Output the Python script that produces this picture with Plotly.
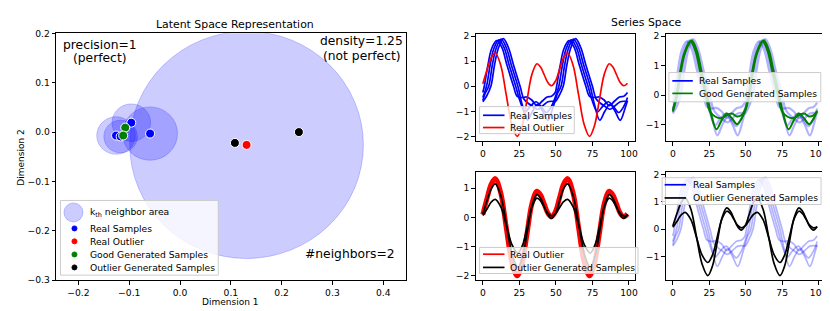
import plotly.graph_objects as go

# ---------------- Latent space data ----------------
real_x = [-0.126, -0.117, -0.096, -0.059]
real_y = [-0.007, -0.009, 0.019, -0.003]
real_r = [0.038, 0.033, 0.038, 0.054]
outlier_x = [0.131]
outlier_y = [-0.026]
outlier_r = [0.230]
good_x = [-0.108, -0.112]
good_y = [0.009, -0.007]
bad_x = [0.108, 0.234]
bad_y = [-0.022, 0.000]

# ---------------- Series space data ----------------
real1_t = [0, 1, 3.5, 6, 9.5, 13, 16.5, 21, 23.5, 27, 30, 33.5, 37, 40.5, 44, 47, 49.5, 50.5, 53, 55.5, 59, 62.5, 66, 70.5, 73, 76.5, 79.5, 83, 86.5, 90, 93.5, 96.5, 99]
real1_v = [-0.25, 0.0, 0.85, 1.5, 1.82, 1.55, 0.85, 0.0, -0.4, -0.45, -0.43, -0.55, -0.78, -0.6, -0.43, -0.4, -0.25, 0.0, 0.85, 1.5, 1.82, 1.55, 0.85, 0.0, -0.4, -0.45, -0.43, -0.55, -0.78, -0.6, -0.43, -0.4, -0.25]
real2_t = [0, 2.5, 5, 7.5, 11, 14.5, 18, 22.5, 25.5, 29, 32.5, 36.5, 40, 43.5, 47, 49.5, 52, 54.5, 57, 60.5, 64, 67.5, 72, 75, 78.5, 82, 86, 89.5, 93, 96.5, 99]
real2_v = [-0.45, 0.0, 0.85, 1.5, 1.85, 1.55, 0.85, 0.0, -0.6, -1.02, -0.8, -0.62, -0.82, -1.05, -0.8, -0.45, 0.0, 0.85, 1.5, 1.85, 1.55, 0.85, 0.0, -0.6, -1.02, -0.8, -0.62, -0.82, -1.05, -0.8, -0.45]
real3_t = [0, 1.5, 4, 6.5, 9, 12.5, 16, 19.5, 24, 27, 30.5, 34, 37.5, 41, 44.5, 48, 49.5, 51, 53.5, 56, 58.5, 62, 65.5, 69, 73.5, 76.5, 80, 83.5, 87, 90.5, 94, 97.5, 99]
real3_v = [-0.57, -0.3, 0.0, 0.85, 1.5, 1.88, 1.55, 0.85, 0.0, -0.75, -1.36, -1.0, -0.72, -1.0, -1.36, -0.85, -0.57, -0.3, 0.0, 0.85, 1.5, 1.88, 1.55, 0.85, 0.0, -0.75, -1.36, -1.0, -0.72, -1.0, -1.36, -0.85, -0.57]
real4_t = [0, 2.5, 5.5, 8, 10.5, 14, 17.5, 21, 25.5, 28, 31, 34, 37.5, 41, 44.5, 47.5, 49.5, 52, 55, 57.5, 60, 63.5, 67, 70.5, 75, 77.5, 80.5, 83.5, 87, 90.5, 94, 97, 99]
real4_v = [-0.62, -0.4, 0.0, 0.85, 1.5, 1.9, 1.55, 0.85, 0.0, -0.5, -0.68, -0.8, -0.92, -0.78, -0.62, -0.6, -0.62, -0.4, 0.0, 0.85, 1.5, 1.9, 1.55, 0.85, 0.0, -0.5, -0.68, -0.8, -0.92, -0.78, -0.62, -0.6, -0.62]

outlier_t = [0, 3, 5.75, 8.5, 12.25, 16, 19.75, 23.5, 26.9, 30.25, 33.6, 37, 39.5, 42, 44.5, 47, 49.75, 52.5, 55.25, 58, 61.75, 65.5, 69.25, 73, 76.4, 79.75, 83.1, 86.5, 89, 91.5, 94, 96.5, 99]
outlier_v = [0.1, 0.68, 1.14, 1.33, 0.84, -0.335, -1.51, -2.0, -1.575, -0.55, 0.475, 0.9, 0.77, 0.46, 0.15, 0.02, 0.21, 0.675, 1.14, 1.33, 0.84, -0.335, -1.51, -2.0, -1.575, -0.55, 0.475, 0.9, 0.77, 0.46, 0.15, 0.02, 0.12]

good1_t = [0, 3, 5.5, 8.5, 13, 16.5, 19.5, 23.5, 26.5, 30, 33.5, 37, 40.5, 44, 47, 49.5, 52.5, 55, 58, 62.5, 66, 69, 73, 76, 79.5, 83, 86.5, 90, 93.5, 96.5, 99]
good1_v = [-0.55, 0.0, 0.8, 1.45, 1.85, 1.5, 0.85, 0.0, -0.7, -1.15, -0.85, -0.62, -0.78, -0.98, -0.8, -0.55, 0.0, 0.8, 1.45, 1.85, 1.5, 0.85, 0.0, -0.7, -1.15, -0.85, -0.62, -0.78, -0.98, -0.8, -0.52]
good2_t = [0, 2.5, 5, 8, 12, 15.5, 18.5, 22.5, 25.5, 29, 33, 37, 40.5, 44, 47, 49.5, 52, 54.5, 57.5, 61.5, 65, 68, 72, 75, 78.5, 82.5, 86.5, 90, 93.5, 96.5, 99]
good2_v = [-0.5, 0.0, 0.8, 1.45, 1.82, 1.5, 0.85, 0.0, -0.55, -0.72, -0.78, -0.68, -0.62, -0.72, -0.68, -0.5, 0.0, 0.8, 1.45, 1.82, 1.5, 0.85, 0.0, -0.55, -0.72, -0.78, -0.68, -0.62, -0.72, -0.68, -0.55]

bad_t = [0, 3, 5.75, 8.5, 12.4, 16.25, 20.1, 24, 27.25, 30.5, 33.75, 37, 39.5, 42, 44.5, 47, 49.75, 52.5, 55.25, 58, 61.9, 65.75, 69.6, 73.5, 76.75, 80, 83.25, 86.5, 89, 91.5, 94, 96.5, 99]
bad1_v = [0.12, 0.6, 0.98, 1.15, 0.73, -0.275, -1.28, -1.7, -1.34, -0.46, 0.42, 0.78, 0.66, 0.375, 0.09, -0.03, 0.14, 0.56, 0.98, 1.15, 0.73, -0.275, -1.28, -1.7, -1.34, -0.46, 0.42, 0.78, 0.66, 0.375, 0.09, -0.03, 0.1]
bad2_v = [0.07, 0.3, 0.53, 0.62, 0.35, -0.3, -0.95, -1.22, -0.94, -0.28, 0.38, 0.66, 0.57, 0.355, 0.14, 0.05, 0.13, 0.335, 0.54, 0.62, 0.35, -0.3, -0.95, -1.22, -0.94, -0.28, 0.38, 0.66, 0.57, 0.355, 0.14, 0.05, 0.08]

real_t_list = [real1_t, real2_t, real3_t, real4_t]
real_v_list = [real1_v, real2_v, real3_v, real4_v]

# ---------------- Styling ----------------
FONT = "DejaVu Sans"
BLUE = "#0000ff"
RED = "#ff0000"
GREEN = "#008000"
BLACK = "#000000"
FAINT = "rgba(0,0,255,0.3)"
AREA = "rgba(0,0,255,0.2)"
LW = 1.7
W, H = 830, 311

fig = go.Figure()

# neighbour circles (k-th neighbour radius around every real sample)
for cx, cy, r in zip(real_x + outlier_x, real_y + outlier_y, real_r + outlier_r):
    fig.add_shape(type="circle", xref="x", yref="y", x0=cx - r, x1=cx + r, y0=cy - r, y1=cy + r,
                  fillcolor=AREA, line=dict(color=AREA, width=1), layer="below")

def pts(xs, ys, color, name):
    fig.add_trace(go.Scatter(x=xs, y=ys, mode="markers", name=name, xaxis="x", yaxis="y",
                             marker=dict(size=9, color=color, line=dict(color="white", width=1))))

pts(real_x, real_y, BLUE, "Real Samples")
pts(outlier_x, outlier_y, RED, "Real Outlier")
pts(good_x, good_y, GREEN, "Good Generated Samples")
pts(bad_x, bad_y, BLACK, "Outlier Generated Samples")

def line(t, v, color, width, ax, name):
    fig.add_trace(go.Scatter(x=t, y=v, mode="lines", name=name, xaxis="x" + ax, yaxis="y" + ax,
                             line=dict(color=color, width=width, shape="spline", smoothing=1.0)))

# TL: real samples + outlier
for t, v in zip(real_t_list, real_v_list):
    line(t, v, BLUE, LW, "2", "Real Samples")
line(outlier_t, outlier_v, RED, LW, "2", "Real Outlier")
# TR: real (faint) + good generated
for t, v in zip(real_t_list, real_v_list):
    line(t, v, FAINT, 2.2, "3", "Real Samples")
line(good1_t, good1_v, GREEN, 2.0, "3", "Good Generated Samples")
line(good2_t, good2_v, GREEN, 2.0, "3", "Good Generated Samples")
# BL: outlier (thick) + outlier generated
line(outlier_t, outlier_v, RED, 5, "4", "Real Outlier")
line(bad_t, bad1_v, BLACK, LW, "4", "Outlier Generated Samples")
line(bad_t, bad2_v, BLACK, LW, "4", "Outlier Generated Samples")
# BR: real (faint) + outlier generated
for t, v in zip(real_t_list, real_v_list):
    line(t, v, FAINT, LW, "5", "Real Samples")
line(bad_t, bad1_v, BLACK, LW, "5", "Outlier Generated Samples")
line(bad_t, bad2_v, BLACK, LW, "5", "Outlier Generated Samples")

def axis(domain, rng, tickvals, anchor, fmt=None):
    d = dict(domain=domain, range=rng, tickvals=tickvals, anchor=anchor,
             showline=True, mirror=True, linecolor="black", linewidth=1,
             ticks="outside", ticklen=3.5, tickwidth=1, tickcolor="black",
             showgrid=False, zeroline=False, fixedrange=True,
             tickfont=dict(family=FONT, size=9.2, color="black"))
    if fmt:
        d["tickformat"] = fmt
    return d

xTL = [469.3 / W, 629 / W]
xTR = [660 / W, 819.3 / W]
yTop = [(H - 131.7) / H, (H - 20.7) / H]
yBot = [35 / H, (H - 164.3) / H]
xt = [0, 25, 50, 75, 100]
xr = [-4.95, 103.95]

fig.update_layout(
    width=W, height=H, margin=dict(l=0, r=0, t=0, b=0),
    paper_bgcolor="white", plot_bgcolor="white", showlegend=False,
    font=dict(family=FONT, color="black"),
    xaxis=axis([48.3 / W, 399 / W], [-0.244, 0.444], [-0.2, -0.1, 0.0, 0.1, 0.2, 0.3, 0.4], "y", ".1f"),
    yaxis=axis([35 / H, 291 / H], [-0.3, 0.2], [-0.3, -0.2, -0.1, 0.0, 0.1, 0.2], "x", ".1f"),
    xaxis2=axis(xTL, xr, xt, "y2"),
    yaxis2=axis(yTop, [-2.19, 2.09], [-2, -1, 0, 1, 2], "x2"),
    xaxis3=axis(xTR, xr, xt, "y3"),
    yaxis3=axis(yTop, [-1.55, 2.07], [-1, 0, 1, 2], "x3"),
    xaxis4=axis(xTL, xr, xt, "y4"),
    yaxis4=axis(yBot, [-2.15, 1.54], [-2, -1, 0, 1], "x4"),
    xaxis5=axis(xTR, xr, xt, "y5"),
    yaxis5=axis(yBot, [-1.87, 2.08], [-1, 0, 1, 2], "x5"),
)

def px(x):
    return x / W

def py(y):
    return 1 - y / H

def txt(s, x, y, size, angle=0, anchor="center"):
    fig.add_annotation(text=s, x=px(x), y=py(y), xref="paper", yref="paper",
                       xanchor=anchor, yanchor="middle", showarrow=False, textangle=angle,
                       font=dict(family=FONT, size=size, color="black"))

# ---------------- legend boxes (drawn as matplotlib-style legends) ----------------
def legend_box(x0, y0, x1, y1):
    fig.add_shape(type="rect", xref="paper", yref="paper", x0=px(x0), x1=px(x1), y0=py(y1), y1=py(y0),
                  fillcolor="rgba(255,255,255,0.8)", line=dict(color="#cccccc", width=1), layer="above")

def legend_line(x0, x1, y, color, text, tx):
    fig.add_shape(type="line", xref="paper", yref="paper", x0=px(x0), x1=px(x1), y0=py(y), y1=py(y),
                  line=dict(color=color, width=LW), layer="above")
    txt(text, tx, y, 9.2, anchor="left")

def legend_dot(cx, cy, d, color, text, tx):
    fig.add_shape(type="circle", xref="paper", yref="paper", xsizemode="pixel", ysizemode="pixel",
                  xanchor=px(cx), yanchor=py(cy), x0=-d / 2, x1=d / 2, y0=-d / 2, y1=d / 2,
                  fillcolor=color, line=dict(color=color, width=1), layer="above")
    txt(text, tx, cy, 9.2, anchor="left")

# left legend
legend_box(52.7, 193.3, 211, 270.7)
legend_dot(65.7, 205.7, 19, AREA, "k<sub>th</sub> neighbor area", 80.5)
legend_dot(66.7, 222.3, 5, BLUE, "Real Samples", 80.5)
legend_dot(66.7, 235.7, 5, RED, "Real Outlier", 80.5)
legend_dot(66.7, 249.3, 5, GREEN, "Good Generated Samples", 80.5)
legend_dot(66.7, 262.7, 5, BLACK, "Outlier Generated Samples", 80.5)

# TL legend
legend_box(473.3, 96, 568.3, 124)
legend_line(476.7, 498.3, 105, BLUE, "Real Samples", 502)
legend_line(476.7, 498.3, 117.7, RED, "Real Outlier", 502)
# TR legend
legend_box(663.3, 60.7, 815.7, 91)
legend_line(666.7, 687.3, 69.3, BLUE, "Real Samples", 692)
legend_line(666.7, 687.3, 82.3, GREEN, "Good Generated Samples", 692)
# BL legend
legend_box(473.3, 242, 632.3, 269)
legend_line(476.7, 498.3, 249, RED, "Real Outlier", 502)
legend_line(476.7, 498.3, 262.7, BLACK, "Outlier Generated Samples", 502)
# BR legend
legend_box(656.5, 169.7, 816, 197.5)
legend_line(659, 680.5, 177, BLUE, "Real Samples", 685)
legend_line(659, 680.5, 190.7, BLACK, "Outlier Generated Samples", 685)

# ---------------- titles and notes ----------------
txt("Latent Space Representation", 228, 11, 10.9)
txt("Series Space", 640, 9, 10.9)
txt("precision=1", 92.3, 32.3, 12.3)
txt("(perfect)", 92.3, 46, 12.3)
txt("density=1.25", 355, 28.3, 12.3)
txt("(not perfect)", 355, 43.3, 12.3)
txt("#neighbors=2", 343.3, 249.3, 12.3)
txt("Dimension 1", 223, 299, 9)
txt("Dimension 2", 13, 149, 9, -90)

fig.write_html("out.html")
